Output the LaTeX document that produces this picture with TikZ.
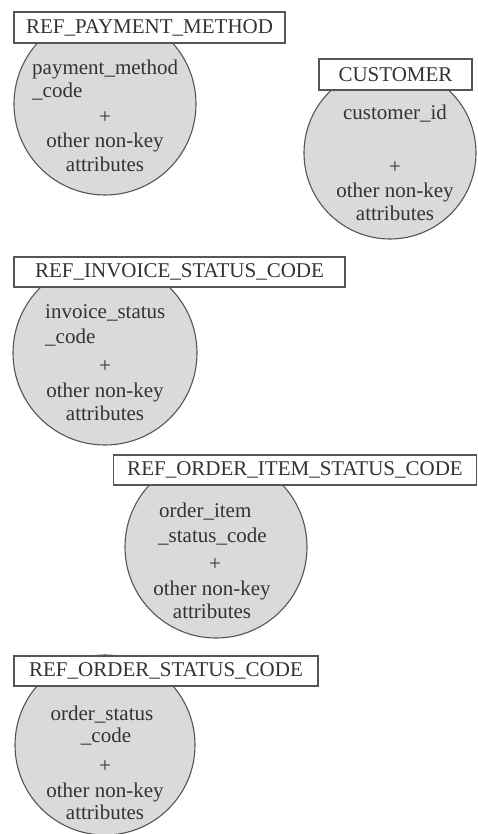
\documentclass[tikz,border=0pt]{standalone}
\usepackage{fontspec}
\setmainfont{Liberation Serif}
\definecolor{edgegray}{HTML}{555555}
\definecolor{bodygray}{HTML}{DADADA}
\definecolor{inkgray}{HTML}{333333}
\begin{document}
\begin{tikzpicture}[x=1pt,y=-1pt,
  entity/.style={circle, draw=edgegray, fill=bodygray, line width=1.1pt, inner sep=0pt},
  titlebox/.style={draw=edgegray, fill=white, line width=1.1pt, inner sep=0pt,
    text=inkgray, font=\fontsize{21}{24}\selectfont},
  attr/.style={text=inkgray, font=\fontsize{21}{24}\selectfont, inner sep=0pt},
]
\useasboundingbox (0,0) rectangle (478,834);
\clip (0,0) rectangle (478,834);

% REF_PAYMENT_METHOD
\node[entity, minimum size=182pt] (pay) at (105,104) {};
\node[titlebox, minimum width=271pt, minimum height=31pt] (paytitle) at (149.5,27.5) {REF\_PAYMENT\_METHOD};
\node[attr, anchor=base west] (paykey) at (32,75) {payment\_method};
\node[attr, anchor=base west] (paykeyb) at (32,98) {\_code};
\node[attr] (payplus) at (105,118) {+};
\node[attr, anchor=base] (payother) at (105,148) {other non-key};
\node[attr, anchor=base] (payattr) at (105,172) {attributes};

% CUSTOMER
\node[entity, minimum size=172pt] (cust) at (390,153) {};
\node[titlebox, minimum width=153pt, minimum height=31pt] (custtitle) at (395.5,74.5) {CUSTOMER};
\node[attr, anchor=base] (custkey) at (395,120) {customer\_id};
\node[attr] (custplus) at (395,168) {+};
\node[attr, anchor=base] (custother) at (395,198) {other non-key};
\node[attr, anchor=base] (custattr) at (395,220) {attributes};

% REF_INVOICE_STATUS_CODE
\node[entity, minimum size=184pt] (inv) at (105,353) {};
\node[titlebox, minimum width=331pt, minimum height=30pt] (invtitle) at (179.5,272) {REF\_INVOICE\_STATUS\_CODE};
\node[attr, anchor=base west] (invkey) at (45,318) {invoice\_status};
\node[attr, anchor=base west] (invkeyb) at (45,343) {\_code};
\node[attr] (invplus) at (105,367) {+};
\node[attr, anchor=base] (invother) at (105,397) {other non-key};
\node[attr, anchor=base] (invattr) at (105,420) {attributes};

% REF_ORDER_ITEM_STATUS_CODE
\node[entity, minimum size=182pt] (item) at (216,547) {};
\node[titlebox, minimum width=363pt, minimum height=30pt] (itemtitle) at (295,470) {REF\_ORDER\_ITEM\_STATUS\_CODE};
\node[attr, anchor=base west] (itemkey) at (159,517) {order\_item};
\node[attr, anchor=base west] (itemkeyb) at (158,542) {\_status\_code};
\node[attr] (itemplus) at (215,565) {+};
\node[attr, anchor=base] (itemother) at (212,595) {other non-key};
\node[attr, anchor=base] (itemattr) at (212,618) {attributes};

% REF_ORDER_STATUS_CODE
\node[entity, minimum size=180pt] (ord) at (105,745) {};
\node[titlebox, minimum width=304pt, minimum height=30pt] (ordtitle) at (166,671) {REF\_ORDER\_STATUS\_CODE};
\node[attr, anchor=base] (ordkey) at (102,720) {order\_status};
\node[attr, anchor=base] (ordkeyb) at (106,742) {\_code};
\node[attr] (ordplus) at (105,767) {+};
\node[attr, anchor=base] (ordother) at (105,797) {other non-key};
\node[attr, anchor=base] (ordattr) at (105,819) {attributes};
\end{tikzpicture}
\end{document}
